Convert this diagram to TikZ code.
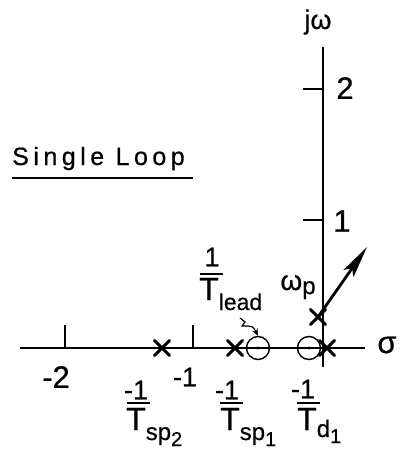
\documentclass[tikz,border=0pt]{standalone}
\usepackage{fontspec}
\setmainfont{Liberation Sans}[FakeBold=0.6]
\usetikzlibrary{arrows.meta}
\newcommand{\fsz}[1]{\fontsize{#1}{#1}\selectfont}
\begin{document}
\begin{tikzpicture}[x=1pt,y=-1pt,
  axisline/.style={line width=1.3pt},
  tickline/.style={line width=1.8pt},
  lbl/.style={inner sep=0pt,font=\fsz{31}},
  numlbl/.style={inner sep=0pt,font=\fsz{27}},
  fracbar/.style={line width=1.7pt},
  zero/.style={circle,draw,line width=1.4pt,minimum size=23pt,inner sep=0pt},
  polept/.style={inner sep=0pt,minimum size=0pt},
  polex/.pic={\draw[line width=3pt,line cap=round] (-7.5,-7.5)--(7.5,7.5) (-7.5,7.5)--(7.5,-7.5);}
]
\useasboundingbox (0,0) rectangle (399,452);

% axes
\coordinate (rl) at (20,348);
\coordinate (rr) at (365,348);
\coordinate (it) at (323,47);
\coordinate (ib) at (323,367);
\draw[axisline] (rl) -- (rr);
\draw[axisline] (it) -- (ib);

% imaginary ticks
\coordinate (t2a) at (303,89); \coordinate (t2b) at (323,89);
\coordinate (t1a) at (303,220); \coordinate (t1b) at (323,220);
\draw[tickline] (t2a) -- (t2b);
\draw[tickline] (t1a) -- (t1b);
\node[lbl] (l2) at (345,88) {2};
\node[lbl] (l1) at (342,221) {1};
\node[inner sep=0pt,font=\fsz{27}] (jw) at (318,22) {jω};

% real ticks
\coordinate (tm2a) at (65,325); \coordinate (tm2b) at (65,348);
\coordinate (tm1a) at (193,325); \coordinate (tm1b) at (193,348);
\draw[tickline] (tm2a) -- (tm2b);
\draw[tickline] (tm1a) -- (tm1b);
\node[lbl] (lm2) at (56,377) {-2};
\node[numlbl] (lm1) at (185,377) {-1};
\node[lbl] (sig) at (387,345) {σ};

% poles
\node[polept] (p2) at (162,348) {};
\node[polept] (p1) at (235,348) {};
\node[polept] (pd) at (327,348) {};
\node[polept] (pp) at (318,317) {};
\pic at (p2) {polex};
\pic at (p1) {polex};
\pic at (pd) {polex};
\pic at (pp) {polex};

% zeros
\node[zero] (zl) at (258,348) {};
\node[zero] (zd) at (309,348) {};
\fill (zl.center) circle (1.6pt);
\fill (zd.center) circle (1.6pt);

% omega_p arrow
\coordinate (tip) at (367,247);
\draw[line width=2.8pt,-{Stealth[length=32pt,width=12pt,inset=6pt]}] (pp) -- (tip);
\node[inner sep=0pt,font=\fsz{28}] (wp) at (298,287) {ω{\fsz{24}\raisebox{-4pt}{p}}};

% 1/T_lead
\node[numlbl] (nlead) at (212,257) {1};
\coordinate (bla) at (200,274); \coordinate (blb) at (223,274);
\draw[fracbar] (bla) -- (blb);
\node[inner sep=0pt,font=\fsz{32},anchor=base west] (dlead) at (199,300) {T{\fsz{23}\raisebox{-10pt}{lead}}};
\coordinate (cs) at (240,318);
\draw[line width=1.2pt,-{Stealth[length=7pt,width=6pt]}] (cs) -- (245,322) -- (242,326) .. controls (253,326) .. (zl.north);

% -1/T_sp2
\node[numlbl] (nsp2) at (136,390) {-1};
\coordinate (b2a) at (127,403); \coordinate (b2b) at (150,403);
\draw[fracbar] (b2a) -- (b2b);
\node[inner sep=0pt,font=\fsz{32},anchor=base west] (dsp2) at (126,430) {T{\fsz{24}\raisebox{-10pt}{sp}\fsz{20}\raisebox{-16pt}{2}}};

% -1/T_sp1
\node[numlbl] (nsp1) at (227,390) {-1};
\coordinate (b1a) at (220,403); \coordinate (b1b) at (243,403);
\draw[fracbar] (b1a) -- (b1b);
\node[inner sep=0pt,font=\fsz{32},anchor=base west] (dsp1) at (220,430) {T{\fsz{24}\raisebox{-10pt}{sp}\fsz{20}\raisebox{-16pt}{1}}};

% -1/T_d1
\node[numlbl] (nd1) at (303,389) {-1};
\coordinate (bda) at (297,403); \coordinate (bdb) at (320,403);
\draw[fracbar] (bda) -- (bdb);
\node[inner sep=0pt,font=\fsz{32},anchor=base west] (dd1) at (297,430) {T{\fsz{24}\raisebox{-7pt}{d}\fsz{20}\raisebox{-13pt}{1}}};

% title
\node[inner sep=0pt,anchor=base west,font=\fsz{25}\addfontfeatures{LetterSpace=18}] (title) at (12,165) {Single Loop};
\coordinate (ula) at (12,178); \coordinate (ulb) at (193,178);
\draw[line width=1.6pt] (ula) -- (ulb);
\end{tikzpicture}
\end{document}
